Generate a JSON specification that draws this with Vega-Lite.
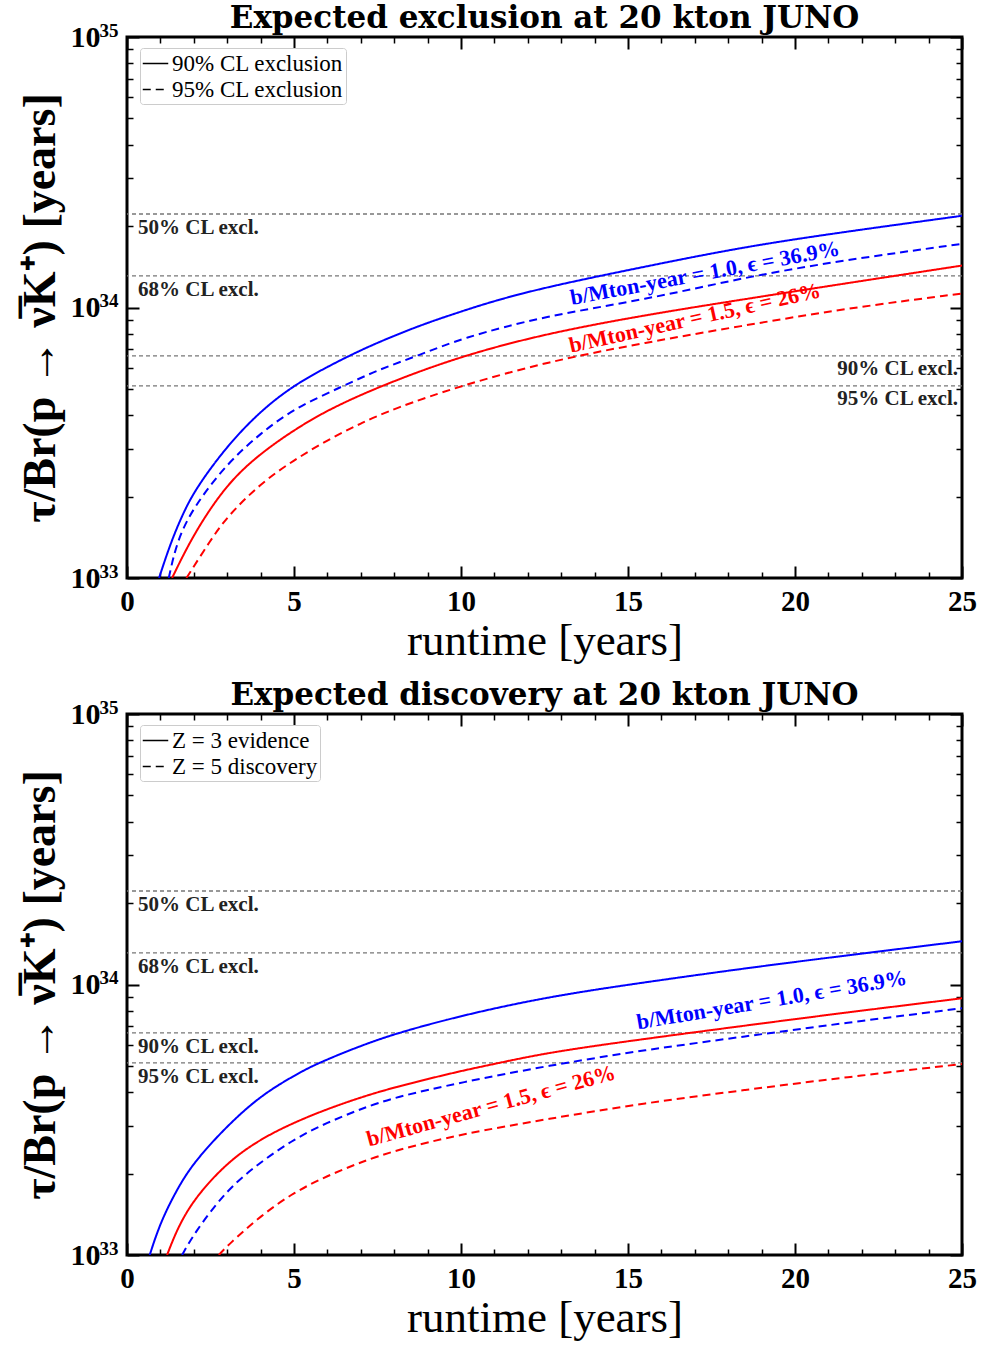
{
  "$schema": "https://vega.github.io/schema/vega-lite/v6.json",
  "background": "white",
  "padding": {"left": 15, "top": 1, "right": 10, "bottom": 5},
  "config": {
    "view": {"stroke": "black", "strokeWidth": 3},
    "font": "Liberation Serif",
    "axis": {"grid": false, "domain": false, "tickColor": "black", "labelColor": "black", "titleColor": "black", "labelFont": "Liberation Serif", "titleFont": "Liberation Serif"},
    "title": {"font": "DejaVu Serif", "fontSize": 31, "fontWeight": "bold", "color": "black", "offset": -14, "anchor": "middle"},
    "legend": {"labelFont": "Liberation Serif", "labelColor": "black"}
  },
  "datasets": {
    "excl": [
      {"t": 0.96, "tau": 1.0e33, "b": "1.0", "cl": "90% CL exclusion"},
      {"t": 1.3, "tau": 1.343e33, "b": "1.0", "cl": "90% CL exclusion"},
      {"t": 1.7, "tau": 1.762e33, "b": "1.0", "cl": "90% CL exclusion"},
      {"t": 2.1, "tau": 2.178e33, "b": "1.0", "cl": "90% CL exclusion"},
      {"t": 3, "tau": 3.083e33, "b": "1.0", "cl": "90% CL exclusion"},
      {"t": 4, "tau": 4.15e33, "b": "1.0", "cl": "90% CL exclusion"},
      {"t": 5, "tau": 5.164e33, "b": "1.0", "cl": "90% CL exclusion"},
      {"t": 6, "tau": 6.039e33, "b": "1.0", "cl": "90% CL exclusion"},
      {"t": 7, "tau": 6.966e33, "b": "1.0", "cl": "90% CL exclusion"},
      {"t": 8, "tau": 7.87e33, "b": "1.0", "cl": "90% CL exclusion"},
      {"t": 9, "tau": 8.79e33, "b": "1.0", "cl": "90% CL exclusion"},
      {"t": 10, "tau": 9.66e33, "b": "1.0", "cl": "90% CL exclusion"},
      {"t": 11, "tau": 1.059e34, "b": "1.0", "cl": "90% CL exclusion"},
      {"t": 12.6, "tau": 1.194e34, "b": "1.0", "cl": "90% CL exclusion"},
      {"t": 15.5, "tau": 1.416e34, "b": "1.0", "cl": "90% CL exclusion"},
      {"t": 18.5, "tau": 1.679e34, "b": "1.0", "cl": "90% CL exclusion"},
      {"t": 21.5, "tau": 1.905e34, "b": "1.0", "cl": "90% CL exclusion"},
      {"t": 25, "tau": 2.183e34, "b": "1.0", "cl": "90% CL exclusion"},
      {"t": 1.25, "tau": 1.0e33, "b": "1.0", "cl": "95% CL exclusion"},
      {"t": 1.5, "tau": 1.38e33, "b": "1.0", "cl": "95% CL exclusion"},
      {"t": 2, "tau": 1.837e33, "b": "1.0", "cl": "95% CL exclusion"},
      {"t": 3, "tau": 2.655e33, "b": "1.0", "cl": "95% CL exclusion"},
      {"t": 4, "tau": 3.428e33, "b": "1.0", "cl": "95% CL exclusion"},
      {"t": 5, "tau": 4.236e33, "b": "1.0", "cl": "95% CL exclusion"},
      {"t": 6.5, "tau": 5.14e33, "b": "1.0", "cl": "95% CL exclusion"},
      {"t": 7.5, "tau": 5.875e33, "b": "1.0", "cl": "95% CL exclusion"},
      {"t": 8.7, "tau": 6.622e33, "b": "1.0", "cl": "95% CL exclusion"},
      {"t": 10, "tau": 7.691e33, "b": "1.0", "cl": "95% CL exclusion"},
      {"t": 12.5, "tau": 9.3e33, "b": "1.0", "cl": "95% CL exclusion"},
      {"t": 15.5, "tau": 1.067e34, "b": "1.0", "cl": "95% CL exclusion"},
      {"t": 18.5, "tau": 1.294e34, "b": "1.0", "cl": "95% CL exclusion"},
      {"t": 21.5, "tau": 1.5e34, "b": "1.0", "cl": "95% CL exclusion"},
      {"t": 25, "tau": 1.718e34, "b": "1.0", "cl": "95% CL exclusion"},
      {"t": 1.35, "tau": 1.0e33, "b": "1.5", "cl": "90% CL exclusion"},
      {"t": 2, "tau": 1.462e33, "b": "1.5", "cl": "90% CL exclusion"},
      {"t": 3, "tau": 2.239e33, "b": "1.5", "cl": "90% CL exclusion"},
      {"t": 4, "tau": 2.891e33, "b": "1.5", "cl": "90% CL exclusion"},
      {"t": 5, "tau": 3.524e33, "b": "1.5", "cl": "90% CL exclusion"},
      {"t": 6, "tau": 4.178e33, "b": "1.5", "cl": "90% CL exclusion"},
      {"t": 7.6, "tau": 5.14e33, "b": "1.5", "cl": "90% CL exclusion"},
      {"t": 10, "tau": 6.622e33, "b": "1.5", "cl": "90% CL exclusion"},
      {"t": 12.6, "tau": 8.035e33, "b": "1.5", "cl": "90% CL exclusion"},
      {"t": 15.5, "tau": 9.376e33, "b": "1.5", "cl": "90% CL exclusion"},
      {"t": 18.5, "tau": 1.074e34, "b": "1.5", "cl": "90% CL exclusion"},
      {"t": 21.5, "tau": 1.227e34, "b": "1.5", "cl": "90% CL exclusion"},
      {"t": 25, "tau": 1.429e34, "b": "1.5", "cl": "90% CL exclusion"},
      {"t": 1.78, "tau": 1.0e33, "b": "1.5", "cl": "95% CL exclusion"},
      {"t": 2.5, "tau": 1.38e33, "b": "1.5", "cl": "95% CL exclusion"},
      {"t": 3, "tau": 1.687e33, "b": "1.5", "cl": "95% CL exclusion"},
      {"t": 4, "tau": 2.239e33, "b": "1.5", "cl": "95% CL exclusion"},
      {"t": 5, "tau": 2.729e33, "b": "1.5", "cl": "95% CL exclusion"},
      {"t": 6, "tau": 3.236e33, "b": "1.5", "cl": "95% CL exclusion"},
      {"t": 7, "tau": 3.733e33, "b": "1.5", "cl": "95% CL exclusion"},
      {"t": 8, "tau": 4.236e33, "b": "1.5", "cl": "95% CL exclusion"},
      {"t": 10, "tau": 5.14e33, "b": "1.5", "cl": "95% CL exclusion"},
      {"t": 12.6, "tau": 6.31e33, "b": "1.5", "cl": "95% CL exclusion"},
      {"t": 15.5, "tau": 7.413e33, "b": "1.5", "cl": "95% CL exclusion"},
      {"t": 18.5, "tau": 8.59e33, "b": "1.5", "cl": "95% CL exclusion"},
      {"t": 21.5, "tau": 9.908e33, "b": "1.5", "cl": "95% CL exclusion"},
      {"t": 25, "tau": 1.127e34, "b": "1.5", "cl": "95% CL exclusion"}
    ],
    "disc": [
      {"t": 0.68, "tau": 1.0e33, "b": "1.0", "cl": "Z = 3 evidence"},
      {"t": 1, "tau": 1.321e33, "b": "1.0", "cl": "Z = 3 evidence"},
      {"t": 1.5, "tau": 1.754e33, "b": "1.0", "cl": "Z = 3 evidence"},
      {"t": 2, "tau": 2.203e33, "b": "1.0", "cl": "Z = 3 evidence"},
      {"t": 3, "tau": 3.006e33, "b": "1.0", "cl": "Z = 3 evidence"},
      {"t": 4, "tau": 3.882e33, "b": "1.0", "cl": "Z = 3 evidence"},
      {"t": 5, "tau": 4.603e33, "b": "1.0", "cl": "Z = 3 evidence"},
      {"t": 5.65, "tau": 5.082e33, "b": "1.0", "cl": "Z = 3 evidence"},
      {"t": 7, "tau": 5.943e33, "b": "1.0", "cl": "Z = 3 evidence"},
      {"t": 8.1, "tau": 6.622e33, "b": "1.0", "cl": "Z = 3 evidence"},
      {"t": 10, "tau": 7.674e33, "b": "1.0", "cl": "Z = 3 evidence"},
      {"t": 12.6, "tau": 9.016e33, "b": "1.0", "cl": "Z = 3 evidence"},
      {"t": 15.5, "tau": 1.019e34, "b": "1.0", "cl": "Z = 3 evidence"},
      {"t": 18.5, "tau": 1.148e34, "b": "1.0", "cl": "Z = 3 evidence"},
      {"t": 21.5, "tau": 1.279e34, "b": "1.0", "cl": "Z = 3 evidence"},
      {"t": 25, "tau": 1.445e34, "b": "1.0", "cl": "Z = 3 evidence"},
      {"t": 1.2, "tau": 1.0e33, "b": "1.5", "cl": "Z = 3 evidence"},
      {"t": 1.5, "tau": 1.247e33, "b": "1.5", "cl": "Z = 3 evidence"},
      {"t": 2, "tau": 1.611e33, "b": "1.5", "cl": "Z = 3 evidence"},
      {"t": 3, "tau": 2.203e33, "b": "1.5", "cl": "Z = 3 evidence"},
      {"t": 4, "tau": 2.685e33, "b": "1.5", "cl": "Z = 3 evidence"},
      {"t": 5, "tau": 3.09e33, "b": "1.5", "cl": "Z = 3 evidence"},
      {"t": 6, "tau": 3.467e33, "b": "1.5", "cl": "Z = 3 evidence"},
      {"t": 7, "tau": 3.828e33, "b": "1.5", "cl": "Z = 3 evidence"},
      {"t": 8, "tau": 4.169e33, "b": "1.5", "cl": "Z = 3 evidence"},
      {"t": 10, "tau": 4.797e33, "b": "1.5", "cl": "Z = 3 evidence"},
      {"t": 11, "tau": 5.082e33, "b": "1.5", "cl": "Z = 3 evidence"},
      {"t": 12.6, "tau": 5.61e33, "b": "1.5", "cl": "Z = 3 evidence"},
      {"t": 15.5, "tau": 6.295e33, "b": "1.5", "cl": "Z = 3 evidence"},
      {"t": 18.5, "tau": 7.047e33, "b": "1.5", "cl": "Z = 3 evidence"},
      {"t": 21.5, "tau": 7.87e33, "b": "1.5", "cl": "Z = 3 evidence"},
      {"t": 25, "tau": 8.892e33, "b": "1.5", "cl": "Z = 3 evidence"},
      {"t": 1.65, "tau": 1.0e33, "b": "1.0", "cl": "Z = 5 discovery"},
      {"t": 2, "tau": 1.197e33, "b": "1.0", "cl": "Z = 5 discovery"},
      {"t": 3, "tau": 1.754e33, "b": "1.0", "cl": "Z = 5 discovery"},
      {"t": 4, "tau": 2.203e33, "b": "1.0", "cl": "Z = 5 discovery"},
      {"t": 5, "tau": 2.685e33, "b": "1.0", "cl": "Z = 5 discovery"},
      {"t": 6, "tau": 3.09e33, "b": "1.0", "cl": "Z = 5 discovery"},
      {"t": 7, "tau": 3.467e33, "b": "1.0", "cl": "Z = 5 discovery"},
      {"t": 8, "tau": 3.828e33, "b": "1.0", "cl": "Z = 5 discovery"},
      {"t": 10, "tau": 4.345e33, "b": "1.0", "cl": "Z = 5 discovery"},
      {"t": 12.6, "tau": 5.012e33, "b": "1.0", "cl": "Z = 5 discovery"},
      {"t": 15.5, "tau": 5.728e33, "b": "1.0", "cl": "Z = 5 discovery"},
      {"t": 18.5, "tau": 6.427e33, "b": "1.0", "cl": "Z = 5 discovery"},
      {"t": 21.5, "tau": 7.211e33, "b": "1.0", "cl": "Z = 5 discovery"},
      {"t": 25, "tau": 8.166e33, "b": "1.0", "cl": "Z = 5 discovery"},
      {"t": 2.75, "tau": 1.0e33, "b": "1.5", "cl": "Z = 5 discovery"},
      {"t": 3, "tau": 1.081e33, "b": "1.5", "cl": "Z = 5 discovery"},
      {"t": 4, "tau": 1.396e33, "b": "1.5", "cl": "Z = 5 discovery"},
      {"t": 5, "tau": 1.706e33, "b": "1.5", "cl": "Z = 5 discovery"},
      {"t": 6, "tau": 1.963e33, "b": "1.5", "cl": "Z = 5 discovery"},
      {"t": 7, "tau": 2.203e33, "b": "1.5", "cl": "Z = 5 discovery"},
      {"t": 8, "tau": 2.432e33, "b": "1.5", "cl": "Z = 5 discovery"},
      {"t": 10, "tau": 2.799e33, "b": "1.5", "cl": "Z = 5 discovery"},
      {"t": 12.6, "tau": 3.184e33, "b": "1.5", "cl": "Z = 5 discovery"},
      {"t": 15.5, "tau": 3.648e33, "b": "1.5", "cl": "Z = 5 discovery"},
      {"t": 18.5, "tau": 4.074e33, "b": "1.5", "cl": "Z = 5 discovery"},
      {"t": 21.5, "tau": 4.539e33, "b": "1.5", "cl": "Z = 5 discovery"},
      {"t": 25, "tau": 5.082e33, "b": "1.5", "cl": "Z = 5 discovery"}
    ],
    "levels": [
      {"level": 50, "tau": 2.216e34, "label": "50% CL excl."},
      {"level": 68, "tau": 1.308e34, "label": "68% CL excl."},
      {"level": 90, "tau": 6.62e33, "label": "90% CL excl."},
      {"level": 95, "tau": 5.13e33, "label": "95% CL excl."}
    ],
    "notes": [
      {"panel": "excl", "b": "1.0", "label": "b/Mton-year = 1.0, ϵ = 36.9%", "t": 17.3, "tau": 1.34e34},
      {"panel": "excl", "b": "1.5", "label": "b/Mton-year = 1.5, ϵ = 26%", "t": 17.0, "tau": 9.14e33},
      {"panel": "disc", "b": "1.0", "label": "b/Mton-year = 1.0, ϵ = 36.9%", "t": 19.3, "tau": 8.77e33},
      {"panel": "disc", "b": "1.5", "label": "b/Mton-year = 1.5, ϵ = 26%", "t": 10.9, "tau": 3.56e33}
    ]
  },
  "spacing": 13,
  "resolve": {"scale": {"strokeDash": "independent", "color": "independent"}, "legend": {"strokeDash": "independent"}},
  "vconcat": [
    {
      "width": 835, "height": 541,
      "title": {"text": "Expected exclusion at 20 kton JUNO"},
      "resolve": {"axis": {"x": "independent", "y": "independent"}},
      "layer": [
        {
          "data": {"name": "levels"},
          "mark": {"type": "rule", "color": "#777777", "strokeDash": [4, 3], "strokeWidth": 1.3},
          "encoding": {"y": {"field": "tau", "type": "quantitative", "scale": {"type": "log", "domain": [1e33, 1e35], "nice": false}, "axis": null}}
        },
        {
          "data": {"name": "excl"},
          "mark": {"type": "line", "strokeWidth": 2, "clip": true, "interpolate": "basis"},
          "encoding": {
            "x": {"field": "t", "type": "quantitative", "scale": {"domain": [0, 25], "nice": false, "zero": false},
                  "axis": {"orient": "bottom", "values": [0, 5, 10, 15, 20, 25], "ticks": false, "format": "d", "labelFontSize": 29, "labelFontWeight": "bold", "labelPadding": 9, "labelFlush": false, "labelOverlap": false, "title": "runtime [years]", "titleFontSize": 45, "titleFontWeight": "normal", "titlePadding": 2}},
            "y": {"field": "tau", "type": "quantitative", "scale": {"type": "log", "domain": [1e33, 1e35], "nice": false},
                  "axis": {"orient": "left", "values": [1e33, 1e34, 1e35], "ticks": false, "labelExpr": "'10'", "labelFontSize": 30, "labelFontWeight": "bold", "labelPadding": 27, "labelFlush": false, "labelOverlap": false, "title": "τ/Br(p → ν̅K⁺) [years]", "titleFontSize": 46, "titleFontWeight": "bold", "titlePadding": 6}},
            "color": {"field": "b", "type": "nominal", "scale": {"domain": ["1.0", "1.5"], "range": ["#0000ff", "#ff0000"]}, "legend": null},
            "strokeDash": {"field": "cl", "type": "nominal", "scale": {"domain": ["90% CL exclusion", "95% CL exclusion"], "range": [[1, 0], [8, 5]]},
                  "legend": {"orient": "none", "legendX": 13, "legendY": 11, "title": null, "labelFontSize": 23, "labelLimit": 0, "symbolType": "stroke", "symbolStrokeWidth": 1.5, "symbolSize": 650, "symbolStrokeColor": "black", "strokeColor": "#cccccc", "fillColor": "white", "cornerRadius": 3, "padding": 2, "rowPadding": 0, "labelOffset": 3}}
          }
        },
        {
          "data": {"name": "excl"},
          "mark": {"type": "line", "strokeOpacity": 0},
          "encoding": {
            "y": {"field": "tau", "type": "quantitative", "axis": {"orient": "left", "values": [1e33, 1e34, 1e35], "ticks": false, "labelExpr": "datum.value < 3e33 ? '33' : datum.value < 3e34 ? '34' : '35'", "labelFontSize": 19, "labelFontWeight": "bold", "labelPadding": 9, "labelOffset": -7, "labelFlush": false, "labelOverlap": false, "title": null}}
          }
        },
        {
          "data": {"name": "excl"},
          "mark": {"type": "line", "strokeOpacity": 0},
          "encoding": {
            "x": {"field": "t", "type": "quantitative", "axis": {"orient": "bottom", "values": [0, 5, 10, 15, 20, 25], "labels": false, "tickSize": -12, "tickWidth": 2, "title": null}},
            "y": {"field": "tau", "type": "quantitative", "axis": {"orient": "left", "values": [1e33, 1e34, 1e35], "labels": false, "tickSize": -12, "tickWidth": 2, "title": null}}
          }
        },
        {
          "data": {"name": "excl"},
          "mark": {"type": "line", "strokeOpacity": 0},
          "encoding": {
            "x": {"field": "t", "type": "quantitative", "axis": {"orient": "bottom", "values": [1, 2, 3, 4, 6, 7, 8, 9, 11, 12, 13, 14, 16, 17, 18, 19, 21, 22, 23, 24], "labels": false, "tickSize": -6, "tickWidth": 1.5, "title": null}},
            "y": {"field": "tau", "type": "quantitative", "axis": {"orient": "left", "values": [2e33, 3e33, 4e33, 5e33, 6e33, 7e33, 8e33, 9e33, 2e34, 3e34, 4e34, 5e34, 6e34, 7e34, 8e34, 9e34], "labels": false, "tickSize": -6, "tickWidth": 1.5, "title": null}}
          }
        },
        {
          "data": {"name": "excl"},
          "mark": {"type": "line", "strokeOpacity": 0},
          "encoding": {
            "x": {"field": "t", "type": "quantitative", "axis": {"orient": "top", "values": [0, 5, 10, 15, 20, 25], "labels": false, "tickSize": -12, "tickWidth": 2, "title": null}},
            "y": {"field": "tau", "type": "quantitative", "axis": {"orient": "right", "values": [1e33, 1e34, 1e35], "labels": false, "tickSize": -12, "tickWidth": 2, "title": null}}
          }
        },
        {
          "data": {"name": "excl"},
          "mark": {"type": "line", "strokeOpacity": 0},
          "encoding": {
            "x": {"field": "t", "type": "quantitative", "axis": {"orient": "top", "values": [1, 2, 3, 4, 6, 7, 8, 9, 11, 12, 13, 14, 16, 17, 18, 19, 21, 22, 23, 24], "labels": false, "tickSize": -6, "tickWidth": 1.5, "title": null}},
            "y": {"field": "tau", "type": "quantitative", "axis": {"orient": "right", "values": [2e33, 3e33, 4e33, 5e33, 6e33, 7e33, 8e33, 9e33, 2e34, 3e34, 4e34, 5e34, 6e34, 7e34, 8e34, 9e34], "labels": false, "tickSize": -6, "tickWidth": 1.5, "title": null}}
          }
        },
        {
          "data": {"name": "levels"},
          "transform": [{"filter": "datum.level < 80"}],
          "mark": {"type": "text", "align": "left", "baseline": "top", "dx": 11, "dy": 3, "fontSize": 21, "fontWeight": "bold", "color": "#222222"},
          "encoding": {
            "x": {"datum": 0, "type": "quantitative", "axis": null},
            "y": {"field": "tau", "type": "quantitative", "axis": null},
            "text": {"field": "label"}
          }
        },
        {
          "data": {"name": "levels"},
          "transform": [{"filter": "datum.level > 80"}],
          "mark": {"type": "text", "align": "right", "baseline": "top", "dx": -4, "dy": 2, "fontSize": 21, "fontWeight": "bold", "color": "#222222"},
          "encoding": {
            "x": {"datum": 25, "type": "quantitative", "axis": null},
            "y": {"field": "tau", "type": "quantitative", "axis": null},
            "text": {"field": "label"}
          }
        },
        {
          "data": {"name": "notes"},
          "transform": [{"filter": "datum.panel == 'excl' && datum.b == '1.0'"}],
          "mark": {"type": "text", "align": "center", "baseline": "middle", "angle": 349.5, "fontSize": 22, "fontWeight": "bold"},
          "encoding": {
            "x": {"field": "t", "type": "quantitative", "axis": null},
            "y": {"field": "tau", "type": "quantitative", "axis": null},
            "text": {"field": "label"},
            "color": {"field": "b", "type": "nominal", "legend": null}
          }
        },
        {
          "data": {"name": "notes"},
          "transform": [{"filter": "datum.panel == 'excl' && datum.b == '1.5'"}],
          "mark": {"type": "text", "align": "center", "baseline": "middle", "angle": 347.5, "fontSize": 22, "fontWeight": "bold"},
          "encoding": {
            "x": {"field": "t", "type": "quantitative", "axis": null},
            "y": {"field": "tau", "type": "quantitative", "axis": null},
            "text": {"field": "label"},
            "color": {"field": "b", "type": "nominal", "legend": null}
          }
        }
      ]
    },
    {
      "width": 835, "height": 541,
      "title": {"text": "Expected discovery at 20 kton JUNO"},
      "resolve": {"axis": {"x": "independent", "y": "independent"}},
      "layer": [
        {
          "data": {"name": "levels"},
          "mark": {"type": "rule", "color": "#777777", "strokeDash": [4, 3], "strokeWidth": 1.3},
          "encoding": {"y": {"field": "tau", "type": "quantitative", "scale": {"type": "log", "domain": [1e33, 1e35], "nice": false}, "axis": null}}
        },
        {
          "data": {"name": "disc"},
          "mark": {"type": "line", "strokeWidth": 2, "clip": true, "interpolate": "basis"},
          "encoding": {
            "x": {"field": "t", "type": "quantitative", "scale": {"domain": [0, 25], "nice": false, "zero": false},
                  "axis": {"orient": "bottom", "values": [0, 5, 10, 15, 20, 25], "ticks": false, "format": "d", "labelFontSize": 29, "labelFontWeight": "bold", "labelPadding": 9, "labelFlush": false, "labelOverlap": false, "title": "runtime [years]", "titleFontSize": 45, "titleFontWeight": "normal", "titlePadding": 2}},
            "y": {"field": "tau", "type": "quantitative", "scale": {"type": "log", "domain": [1e33, 1e35], "nice": false},
                  "axis": {"orient": "left", "values": [1e33, 1e34, 1e35], "ticks": false, "labelExpr": "'10'", "labelFontSize": 30, "labelFontWeight": "bold", "labelPadding": 27, "labelFlush": false, "labelOverlap": false, "title": "τ/Br(p → ν̅K⁺) [years]", "titleFontSize": 46, "titleFontWeight": "bold", "titlePadding": 6}},
            "color": {"field": "b", "type": "nominal", "scale": {"domain": ["1.0", "1.5"], "range": ["#0000ff", "#ff0000"]}, "legend": null},
            "strokeDash": {"field": "cl", "type": "nominal", "scale": {"domain": ["Z = 3 evidence", "Z = 5 discovery"], "range": [[1, 0], [8, 5]]},
                  "legend": {"orient": "none", "legendX": 13, "legendY": 11, "title": null, "labelFontSize": 23, "labelLimit": 0, "symbolType": "stroke", "symbolStrokeWidth": 1.5, "symbolSize": 650, "symbolStrokeColor": "black", "strokeColor": "#cccccc", "fillColor": "white", "cornerRadius": 3, "padding": 2, "rowPadding": 0, "labelOffset": 3}}
          }
        },
        {
          "data": {"name": "disc"},
          "mark": {"type": "line", "strokeOpacity": 0},
          "encoding": {
            "y": {"field": "tau", "type": "quantitative", "axis": {"orient": "left", "values": [1e33, 1e34, 1e35], "ticks": false, "labelExpr": "datum.value < 3e33 ? '33' : datum.value < 3e34 ? '34' : '35'", "labelFontSize": 19, "labelFontWeight": "bold", "labelPadding": 9, "labelOffset": -7, "labelFlush": false, "labelOverlap": false, "title": null}}
          }
        },
        {
          "data": {"name": "disc"},
          "mark": {"type": "line", "strokeOpacity": 0},
          "encoding": {
            "x": {"field": "t", "type": "quantitative", "axis": {"orient": "bottom", "values": [0, 5, 10, 15, 20, 25], "labels": false, "tickSize": -12, "tickWidth": 2, "title": null}},
            "y": {"field": "tau", "type": "quantitative", "axis": {"orient": "left", "values": [1e33, 1e34, 1e35], "labels": false, "tickSize": -12, "tickWidth": 2, "title": null}}
          }
        },
        {
          "data": {"name": "disc"},
          "mark": {"type": "line", "strokeOpacity": 0},
          "encoding": {
            "x": {"field": "t", "type": "quantitative", "axis": {"orient": "bottom", "values": [1, 2, 3, 4, 6, 7, 8, 9, 11, 12, 13, 14, 16, 17, 18, 19, 21, 22, 23, 24], "labels": false, "tickSize": -6, "tickWidth": 1.5, "title": null}},
            "y": {"field": "tau", "type": "quantitative", "axis": {"orient": "left", "values": [2e33, 3e33, 4e33, 5e33, 6e33, 7e33, 8e33, 9e33, 2e34, 3e34, 4e34, 5e34, 6e34, 7e34, 8e34, 9e34], "labels": false, "tickSize": -6, "tickWidth": 1.5, "title": null}}
          }
        },
        {
          "data": {"name": "disc"},
          "mark": {"type": "line", "strokeOpacity": 0},
          "encoding": {
            "x": {"field": "t", "type": "quantitative", "axis": {"orient": "top", "values": [0, 5, 10, 15, 20, 25], "labels": false, "tickSize": -12, "tickWidth": 2, "title": null}},
            "y": {"field": "tau", "type": "quantitative", "axis": {"orient": "right", "values": [1e33, 1e34, 1e35], "labels": false, "tickSize": -12, "tickWidth": 2, "title": null}}
          }
        },
        {
          "data": {"name": "disc"},
          "mark": {"type": "line", "strokeOpacity": 0},
          "encoding": {
            "x": {"field": "t", "type": "quantitative", "axis": {"orient": "top", "values": [1, 2, 3, 4, 6, 7, 8, 9, 11, 12, 13, 14, 16, 17, 18, 19, 21, 22, 23, 24], "labels": false, "tickSize": -6, "tickWidth": 1.5, "title": null}},
            "y": {"field": "tau", "type": "quantitative", "axis": {"orient": "right", "values": [2e33, 3e33, 4e33, 5e33, 6e33, 7e33, 8e33, 9e33, 2e34, 3e34, 4e34, 5e34, 6e34, 7e34, 8e34, 9e34], "labels": false, "tickSize": -6, "tickWidth": 1.5, "title": null}}
          }
        },
        {
          "data": {"name": "levels"},
          "mark": {"type": "text", "align": "left", "baseline": "top", "dx": 11, "dy": 3, "fontSize": 21, "fontWeight": "bold", "color": "#222222"},
          "encoding": {
            "x": {"datum": 0, "type": "quantitative", "axis": null},
            "y": {"field": "tau", "type": "quantitative", "axis": null},
            "text": {"field": "label"}
          }
        },
        {
          "data": {"name": "notes"},
          "transform": [{"filter": "datum.panel == 'disc' && datum.b == '1.0'"}],
          "mark": {"type": "text", "align": "center", "baseline": "middle", "angle": 350.5, "fontSize": 22, "fontWeight": "bold"},
          "encoding": {
            "x": {"field": "t", "type": "quantitative", "axis": null},
            "y": {"field": "tau", "type": "quantitative", "axis": null},
            "text": {"field": "label"},
            "color": {"field": "b", "type": "nominal", "legend": null}
          }
        },
        {
          "data": {"name": "notes"},
          "transform": [{"filter": "datum.panel == 'disc' && datum.b == '1.5'"}],
          "mark": {"type": "text", "align": "center", "baseline": "middle", "angle": 344.7, "fontSize": 22, "fontWeight": "bold"},
          "encoding": {
            "x": {"field": "t", "type": "quantitative", "axis": null},
            "y": {"field": "tau", "type": "quantitative", "axis": null},
            "text": {"field": "label"},
            "color": {"field": "b", "type": "nominal", "legend": null}
          }
        }
      ]
    }
  ]
}
